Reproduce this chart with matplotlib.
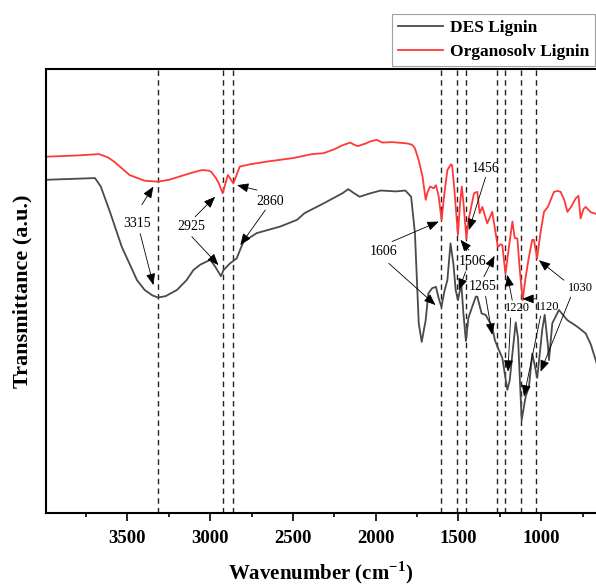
"""FTIR spectra of DES lignin vs organosolv lignin, with the band assignments marked."""
import matplotlib

matplotlib.use("Agg")
import matplotlib.pyplot as plt  # noqa: E402
from matplotlib.ticker import MultipleLocator  # noqa: E402

# Values (transmittance in arbitrary units).
des_wn = [4000, 3850, 3696, 3661, 3603, 3534, 3442, 3396, 3350, 3316, 3270, 3201,
          3143, 3101, 3060, 2999, 2969, 2935, 2919, 2880, 2840, 2799, 2719, 2576,
          2475, 2430, 2315, 2200, 2166, 2131, 2097, 2039, 1970, 1878, 1821, 1786,
          1763, 1740, 1722, 1698, 1682, 1659, 1636, 1620, 1603, 1585, 1567, 1548,
          1530, 1517, 1503, 1483, 1470, 1455, 1440, 1417, 1395, 1386, 1360, 1336,
          1296, 1280, 1256, 1235, 1205, 1190, 1174, 1154, 1140, 1118, 1094, 1074,
          1054, 1024, 994, 979, 960, 953, 933, 893, 842, 781, 731, 700, 665]
des_t = [75.1, 75.3, 75.5, 73.6, 67.6, 60.0, 52.5, 50.3, 49.1, 48.6, 48.9, 50.3,
         52.5, 54.8, 56.0, 57.1, 55.5, 53.4, 54.8, 56.3, 57.4, 61.2, 63.1, 64.6,
         66.1, 67.6, 69.8, 72.1, 73.0, 72.1, 71.3, 72.0, 72.7, 72.5, 72.7, 71.3,
         63.1, 42.8, 38.6, 43.5, 49.5, 50.7, 51.0, 48.5, 46.5, 50.0, 52.5, 60.8,
         56.0, 50.3, 48.0, 51.8, 45.0, 38.8, 44.0, 46.5, 48.8, 48.8, 45.0, 44.7,
         42.0, 39.0, 36.8, 35.0, 27.8, 30.0, 36.0, 43.0, 39.4, 21.0, 26.3, 28.5,
         36.0, 30.5, 41.3, 44.7, 38.0, 34.5, 42.8, 45.8, 43.5, 42.0, 40.5, 38.0, 33.8]

org_wn = [4000, 3800, 3672, 3620, 3580, 3488, 3396, 3316, 3250, 3189, 3120, 3051,
          3010, 2994, 2965, 2948, 2925, 2893, 2860, 2821, 2760, 2660, 2500, 2384,
          2315, 2250, 2200, 2154, 2130, 2108, 2060, 2030, 1993, 1960, 1900, 1809,
          1780, 1763, 1740, 1717, 1698, 1685, 1671, 1650, 1636, 1620, 1602, 1585,
          1567, 1545, 1538, 1525, 1503, 1490, 1480, 1470, 1452, 1440, 1427, 1406,
          1386, 1372, 1356, 1326, 1296, 1262, 1245, 1235, 1216, 1195, 1174, 1160,
          1144, 1130, 1112, 1095, 1074, 1054, 1044, 1025, 1005, 983, 960, 923,
          900, 883, 860, 842, 820, 792, 775, 762, 745, 731, 700, 665]
org_t = [80.3, 80.6, 80.9, 80.2, 79.2, 76.2, 74.9, 74.7, 75.1, 75.8, 76.6, 77.3,
         77.2, 76.9, 75.5, 74.3, 72.1, 76.2, 74.3, 78.1, 78.6, 79.2, 80.0, 80.9,
         81.1, 82.0, 82.9, 83.5, 83.0, 82.7, 83.3, 83.8, 84.1, 83.5, 83.6, 83.3,
         83.0, 82.2, 79.5, 75.8, 70.6, 72.5, 73.6, 73.2, 73.9, 71.5, 66.1, 72.0,
         77.3, 78.6, 78.3, 73.0, 62.7, 70.0, 73.6, 70.0, 61.9, 66.0, 68.3, 72.1,
         72.4, 67.6, 69.0, 65.3, 67.9, 60.0, 60.6, 60.4, 53.9, 60.0, 65.7, 62.0,
         61.9, 55.0, 48.0, 53.0, 57.8, 61.6, 61.6, 57.4, 63.0, 67.9, 69.0, 72.4,
         72.6, 72.4, 70.5, 67.9, 69.0, 70.9, 71.5, 66.4, 68.5, 69.0, 67.8, 67.4]

# Marked bands (cm-1)
band_wn = [3315, 2925, 2860, 1606, 1506, 1456, 1265, 1220, 1120, 1030]

# Label placement: text position, then (tail, tip) for each arrow.
labels = [
    ("3315", (3440, 65.3), [((3413, 69.5), (3343, 73.6)), ((3423, 63.0), (3343, 51.4))], 10),
    ("2925", (3116, 64.7), [((3091, 66.8), (2970, 71.3)), ((3111, 62.3), (2950, 55.9))], 10),
    ("2860", (2637, 70.2), [((2717, 72.8), (2838, 73.9)), ((2667, 68.3), (2818, 60.4))], 10),
    ("1606", (1951, 58.9), [((1901, 61.2), (1619, 65.7)), ((1921, 56.3), (1639, 46.9))], 10),
    ("1506", (1417, 56.7), [((1437, 59.3), (1488, 61.6)), ((1457, 54.4), (1498, 50.3))], 10),
    ("1456", (1336, 77.7), [((1336, 75.7), (1437, 63.8))], 10),
    ("1265", (1356, 51.0), [((1346, 53.3), (1282, 58.0)), ((1336, 48.9), (1296, 40.2))], 10),
    ("1220", (1145, 46.2), [((1175, 48.0), (1205, 53.7)), ((1185, 44.0), (1201, 31.9))], 9),
    ("1120", (963, 46.4), [((1034, 48.3), (1114, 48.3)), ((1004, 44.4), (1104, 26.3))], 9),
    ("1030", (762, 50.7), [((863, 52.5), (1014, 57.0)), ((822, 48.7), (1004, 31.9))], 9),
]

plt.rcParams["font.family"] = ["Liberation Serif", "DejaVu Serif"]

fig = plt.figure(figsize=(5.96, 5.85), dpi=100)
ax = fig.add_axes([46 / 596, 71.7 / 585, 1 - 46 / 596, 444 / 585])

ax.plot(des_wn, des_t, color="#4a4a4a", lw=1.3, label="DES Lignin")
ax.plot(org_wn, org_t, color="#ff3838", lw=1.3, label="Organosolv Lignin")

for wn in band_wn:
    ax.axvline(wn, color="#222222", lw=1.0, ls=(0, (4, 3)), zorder=0)

arrow = dict(arrowstyle="-|>,head_length=0.7,head_width=0.28", color="black",
             lw=0.6, shrinkA=0, shrinkB=0, mutation_scale=10)
for text, pos, arrows, size in labels:
    ax.text(pos[0], pos[1], text, fontsize=size, ha="center", va="center")
    for tail, tip in arrows:
        ax.annotate("", xy=tip, xytext=tail, arrowprops=arrow)

ax.set_xlim(3992, 669)
ax.set_ylim(0, 100)
ax.xaxis.set_major_locator(MultipleLocator(500))
ax.xaxis.set_minor_locator(MultipleLocator(250))
ax.tick_params(axis="x", which="major", direction="out", length=6, width=1.2,
               pad=6, labelsize=13.5)
ax.tick_params(axis="x", which="minor", direction="out", length=3, width=1.2)
ax.set_yticks([])
for lab in ax.get_xticklabels():
    lab.set_fontweight("bold")
for side in ("left", "bottom", "top"):
    ax.spines[side].set_linewidth(1.5)
ax.spines["right"].set_visible(False)

ax.set_xlabel("Wavenumber (cm$^{\\mathregular{-1}}$)", fontsize=15, fontweight="bold",
              labelpad=9)
ax.set_ylabel("Transmittance (a.u.)", fontsize=16, fontweight="bold", labelpad=10)

leg = fig.legend(loc="upper left", bbox_to_anchor=(392 / 596, 1 - 14 / 585),
                 prop={"weight": "bold", "size": 12.5}, frameon=True, fancybox=False,
                 handlelength=2.6, handletextpad=0.4, borderpad=0.35, labelspacing=0.45,
                 borderaxespad=0)
leg.get_frame().set_edgecolor("#888888")
leg.get_frame().set_linewidth(0.8)

fig.savefig("out.png", dpi=100)
